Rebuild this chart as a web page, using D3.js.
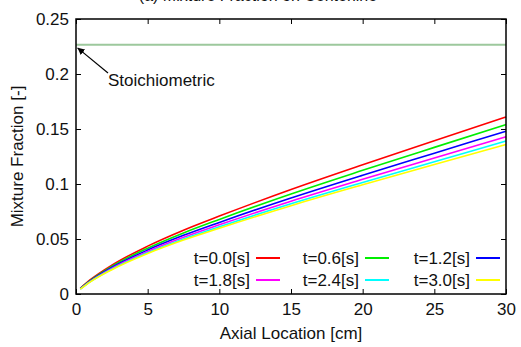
<!DOCTYPE html>
<html>
<head>
<meta charset="utf-8">
<script src="https://cdn.jsdelivr.net/npm/d3@7"></script>
<style>
  body { margin: 0; background: #fff; }
  svg { display: block; font-family: "Liberation Sans", Arial, sans-serif; }
</style>
</head>
<body>
<svg id="chart" width="521" height="347"></svg>
<script>
// axial positions [cm]
const axial = [0.3, 1, 2.5, 5, 7.5, 10, 15, 20, 25, 30];

// mixture fraction at each time step
const seriesNames = ['t=0.0[s]', 't=0.6[s]', 't=1.2[s]', 't=1.8[s]', 't=2.4[s]', 't=3.0[s]'];
const t00 = [0.0052, 0.0130, 0.0262, 0.0435, 0.0580, 0.0708, 0.0950, 0.1175, 0.1393, 0.1610];
const t06 = [0.0050, 0.0124, 0.0251, 0.0416, 0.0555, 0.0678, 0.0909, 0.1124, 0.1333, 0.1540];
const t12 = [0.0048, 0.0119, 0.0241, 0.0400, 0.0533, 0.0651, 0.0873, 0.1080, 0.1280, 0.1480];
const t18 = [0.0046, 0.0115, 0.0233, 0.0386, 0.0515, 0.0629, 0.0844, 0.1043, 0.1237, 0.1430];
const t24 = [0.0045, 0.0112, 0.0226, 0.0375, 0.0500, 0.0611, 0.0820, 0.1014, 0.1202, 0.1390];
const t30 = [0.0044, 0.0110, 0.0221, 0.0368, 0.0490, 0.0598, 0.0803, 0.0993, 0.1177, 0.1360];
const seriesValues = [t00, t06, t12, t18, t24, t30];
const seriesColors = ['#ff0000', '#00ee00', '#0000ff', '#ff00ff', '#00ffff', '#ffff00'];

const stoich = 0.2265;

const xTicks = [0, 5, 10, 15, 20, 25, 30];
const yTicks = [0, 0.05, 0.1, 0.15, 0.2, 0.25];

const margin = { left: 76, right: 15, top: 19, bottom: 53 };
const width = 521, height = 347;

const svg = d3.select('#chart');

const x = d3.scaleLinear().domain([0, 30]).range([margin.left, width - margin.right]);
const y = d3.scaleLinear().domain([0, 0.25]).range([height - margin.bottom, margin.top]);

// title, mostly cut off at the top edge as in the original figure
svg.append('text')
  .attr('x', 258)
  .attr('y', 0.5)
  .attr('text-anchor', 'middle')
  .style('font-size', '16px')
  .attr('fill', '#111')
  .text('(a) Mixture Fraction on Centerline');

// stoichiometric line
svg.append('line')
  .attr('x1', x(0)).attr('x2', x(30))
  .attr('y1', y(stoich)).attr('y2', y(stoich))
  .attr('stroke', '#9dc89d')
  .attr('stroke-width', 2);

const lineGen = d3.line()
  .x((d, i) => x(axial[i]))
  .y(d => y(d))
  .curve(d3.curveMonotoneX);

seriesValues.forEach((vals, i) => {
  svg.append('path')
    .attr('d', lineGen(vals))
    .attr('fill', 'none')
    .attr('stroke', seriesColors[i])
    .attr('stroke-width', 1.6);
});

// axes: ticks pointing inward, mirrored on top/right
const tickLen = 5;
const xBottom = svg.append('g')
  .attr('transform', `translate(0,${y(0)})`)
  .call(d3.axisBottom(x).tickValues(xTicks).tickSize(-tickLen).tickPadding(9).tickFormat(d3.format('d')));
const xTop = svg.append('g')
  .attr('transform', `translate(0,${y(0.25)})`)
  .call(d3.axisTop(x).tickValues(xTicks).tickSize(-tickLen).tickFormat(''));
const yLeft = svg.append('g')
  .attr('transform', `translate(${x(0)},0)`)
  .call(d3.axisLeft(y).tickValues(yTicks).tickSize(-tickLen).tickPadding(7).tickFormat(d => d === 0 ? '0' : String(+d.toFixed(2))));
const yRight = svg.append('g')
  .attr('transform', `translate(${x(30)},0)`)
  .call(d3.axisRight(y).tickValues(yTicks).tickSize(-tickLen).tickFormat(''));

[xBottom, xTop, yLeft, yRight].forEach(g => {
  g.select('.domain').remove();
  g.selectAll('.tick line').attr('stroke', '#000').attr('stroke-width', 1);
  g.selectAll('.tick text').style('font-size', '17px').attr('fill', '#111').style('font-family', 'Liberation Sans, Arial, sans-serif');
});

// frame
svg.append('rect')
  .attr('x', x(0)).attr('y', y(0.25))
  .attr('width', x(30) - x(0)).attr('height', y(0) - y(0.25))
  .attr('fill', 'none')
  .attr('stroke', '#000')
  .attr('stroke-width', 1.5);

// axis labels
svg.append('text')
  .attr('x', (x(0) + x(30)) / 2)
  .attr('y', 339)
  .attr('text-anchor', 'middle')
  .style('font-size', '17px')
  .attr('fill', '#111')
  .text('Axial Location [cm]');

svg.append('text')
  .attr('transform', `translate(23,${(y(0) + y(0.25)) / 2}) rotate(-90)`)
  .attr('text-anchor', 'middle')
  .style('font-size', '17px')
  .attr('fill', '#111')
  .text('Mixture Fraction [-]');

// annotation
const defs = svg.append('defs');
defs.append('marker')
  .attr('id', 'arrowhead')
  .attr('viewBox', '0 -5 10 10')
  .attr('refX', 10)
  .attr('refY', 0)
  .attr('markerWidth', 7)
  .attr('markerHeight', 7)
  .attr('markerUnits', 'userSpaceOnUse')
  .attr('orient', 'auto')
  .append('path')
  .attr('d', 'M0,-5L10,0L0,5Z')
  .attr('fill', '#000');

svg.append('line')
  .attr('x1', 108).attr('y1', 73)
  .attr('x2', x(0) + 1.5).attr('y2', y(stoich) + 3)
  .attr('stroke', '#000')
  .attr('stroke-width', 1.2)
  .attr('marker-end', 'url(#arrowhead)');

svg.append('text')
  .attr('x', 108)
  .attr('y', 86)
  .style('font-size', '17px')
  .attr('fill', '#111')
  .text('Stoichiometric');

// legend: 2 rows x 3 columns, text right-aligned before sample line
const legendCols = [256, 365, 476];
const legendRows = [258, 280];
seriesNames.forEach((name, i) => {
  const cx = legendCols[i % 3];
  const cy = legendRows[Math.floor(i / 3)];
  svg.append('text')
    .attr('x', cx - 6)
    .attr('y', cy + 6)
    .attr('text-anchor', 'end')
    .style('font-size', '17px')
    .attr('fill', '#111')
    .text(name);
  svg.append('line')
    .attr('x1', cx).attr('x2', cx + 24)
    .attr('y1', cy).attr('y2', cy)
    .attr('stroke', seriesColors[i])
    .attr('stroke-width', 2);
});
</script>
</body>
</html>
